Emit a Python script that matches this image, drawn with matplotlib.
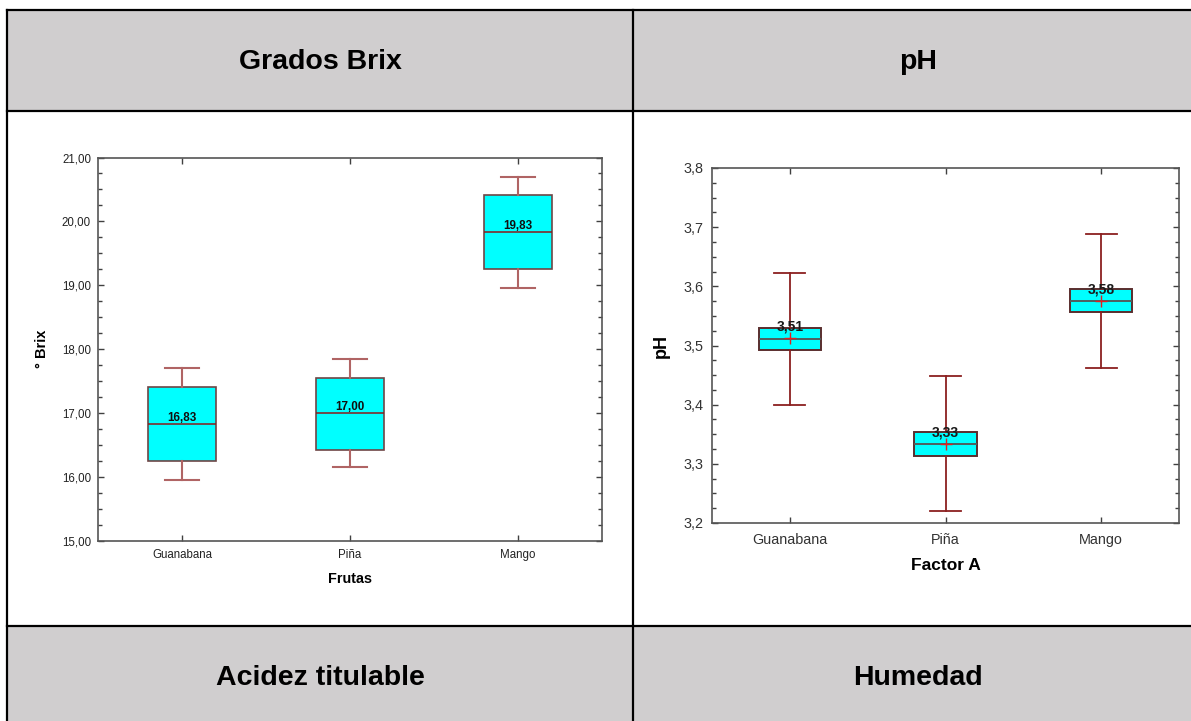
import matplotlib
matplotlib.use("Agg")
import matplotlib.pyplot as plt
from matplotlib.patches import Rectangle
from matplotlib.lines import Line2D
from matplotlib.ticker import MultipleLocator, FuncFormatter

plt.rcParams['font.family'] = ['Liberation Sans', 'DejaVu Sans']

frutas = ["Guanabana", "Piña", "Mango"]

# Grados Brix: box summaries per fruit
brix_med = [16.83, 17.00, 19.83]
brix_q1 = [16.25, 16.43, 19.26]
brix_q3 = [17.41, 17.55, 20.41]
brix_lo = [15.95, 16.16, 18.96]
brix_hi = [17.70, 17.84, 20.70]

# pH: box summaries per fruit (with means)
ph_med = [3.511, 3.334, 3.576]
ph_mean = [3.513, 3.334, 3.576]
ph_q1 = [3.492, 3.314, 3.557]
ph_q3 = [3.530, 3.354, 3.595]
ph_lo = [3.399, 3.220, 3.462]
ph_hi = [3.623, 3.449, 3.688]

headers_top = ["Grados Brix", "pH"]
headers_bottom = ["Acidez titulable", "Humedad"]

W, H = 1191, 721
fig = plt.figure(figsize=(W / 100, H / 100), dpi=100)


def px(x, y):
    return x / W, 1 - y / H


# table cells and borders
gray = "#D0CECF"
for y0, y1 in [(10, 111), (626, 730)]:
    x0, yb = px(7, y1)
    fig.add_artist(Rectangle((x0, yb), (1300 - 7) / W, (y1 - y0) / H,
                             transform=fig.transFigure, facecolor=gray,
                             edgecolor="none", zorder=0))
for y in [10, 111, 626]:
    fig.add_artist(Line2D([7 / W, 1.0], [1 - y / H] * 2, transform=fig.transFigure,
                          color="black", lw=1.6))
for x in [7, 633]:
    fig.add_artist(Line2D([x / W] * 2, [1 - 10 / H, 0], transform=fig.transFigure,
                          color="black", lw=1.6))

for xc, t in zip([320, 918], headers_top):
    fig.text(xc / W, 1 - 62 / H, t, ha="center", va="center",
             fontsize=20.5, fontweight="bold")
for xc, t in zip([320, 918], headers_bottom):
    fig.text(xc / W, 1 - 678 / H, t, ha="center", va="center",
             fontsize=20.5, fontweight="bold")


def make_stats(med, q1, q3, lo, hi, mean=None):
    stats = []
    for i in range(len(med)):
        s = dict(med=med[i], q1=q1[i], q3=q3[i], whislo=lo[i], whishi=hi[i], fliers=[])
        if mean is not None:
            s["mean"] = mean[i]
        stats.append(s)
    return stats


def style_axes(ax, major, minor, fmt, size, color):
    ax.set_xlim(-0.5, 2.5)
    ax.yaxis.set_major_locator(MultipleLocator(major))
    ax.yaxis.set_minor_locator(MultipleLocator(minor))
    ax.yaxis.set_major_formatter(FuncFormatter(lambda v, p: fmt.format(v).replace(".", ",")))
    ax.tick_params(which="both", direction="in", top=True, right=True,
                   color="#404040", width=1.0, labelsize=size, labelcolor=color)
    ax.tick_params(which="major", length=4)
    ax.tick_params(which="minor", length=3)
    for sp in ax.spines.values():
        sp.set_color("#555555")
        sp.set_linewidth(1.2)


# ---- Grados Brix ----
ax1 = fig.add_axes([98 / W, 1 - 541 / H, 504 / W, 383.5 / H])
ax1.bxp(make_stats(brix_med, brix_q1, brix_q3, brix_lo, brix_hi),
        positions=[0, 1, 2], widths=0.4, capwidths=0.2, patch_artist=True,
        boxprops=dict(facecolor="#00FFFF", edgecolor="#6E4545", linewidth=1.2),
        medianprops=dict(color="#8B1A1A", linewidth=1.1),
        whiskerprops=dict(color="#B06464", linewidth=1.5),
        capprops=dict(color="#B06464", linewidth=1.5))
ax1.set_ylim(15, 21)
style_axes(ax1, 1, 0.25, "{:.2f}", 8.3, "#222222")
ax1.set_xticks([0, 1, 2], frutas)
ax1.tick_params(axis="x", which="minor", bottom=False, top=False)
ax1.tick_params(axis="x", pad=6)
ax1.tick_params(axis="y", pad=5)
ax1.set_xlabel("Frutas", fontsize=10.4, fontweight="bold", labelpad=8)
ax1.set_ylabel("° Brix", fontsize=10.5, fontweight="bold", labelpad=9)
for i, m in enumerate(brix_med):
    ax1.annotate(f"{m:.2f}".replace(".", ","), (i, m), xytext=(0, 2.5),
                 textcoords="offset points", ha="center", va="baseline",
                 fontsize=8.4, fontweight="bold", color="#101010")

# ---- pH ----
ax2 = fig.add_axes([712 / W, 1 - 523 / H, 467 / W, 355 / H])
ax2.bxp(make_stats(ph_med, ph_q1, ph_q3, ph_lo, ph_hi, ph_mean),
        positions=[0, 1, 2], widths=0.4, capwidths=0.2, patch_artist=True,
        showmeans=True,
        boxprops=dict(facecolor="#00FFFF", edgecolor="#5A2E2E", linewidth=1.4),
        medianprops=dict(color="#4F5E5E", linewidth=1.4),
        whiskerprops=dict(color="#8B2020", linewidth=1.3),
        capprops=dict(color="#8B2020", linewidth=1.3),
        meanprops=dict(marker="+", markeredgecolor="#E02020", markersize=8,
                       markeredgewidth=1.0))
ax2.set_ylim(3.2, 3.8)
style_axes(ax2, 0.1, 0.025, "{:.1f}", 10.4, "#333333")
ax2.set_xticks([0, 1, 2], frutas)
ax2.tick_params(axis="x", which="minor", bottom=False, top=False)
ax2.tick_params(axis="x", pad=7)
ax2.tick_params(axis="y", pad=6)
ax2.set_xlabel("Factor A", fontsize=12.5, fontweight="bold", labelpad=8)
ax2.set_ylabel("pH", fontsize=13, fontweight="bold", labelpad=10)
for i, m in enumerate(ph_mean):
    ax2.annotate(f"{m:.2f}".replace(".", ","), (i, m), xytext=(0, 5.0),
                 textcoords="offset points", ha="center", va="baseline",
                 fontsize=10, fontweight="bold", color="#1A1A1A")

fig.savefig("out.png", dpi=100)
